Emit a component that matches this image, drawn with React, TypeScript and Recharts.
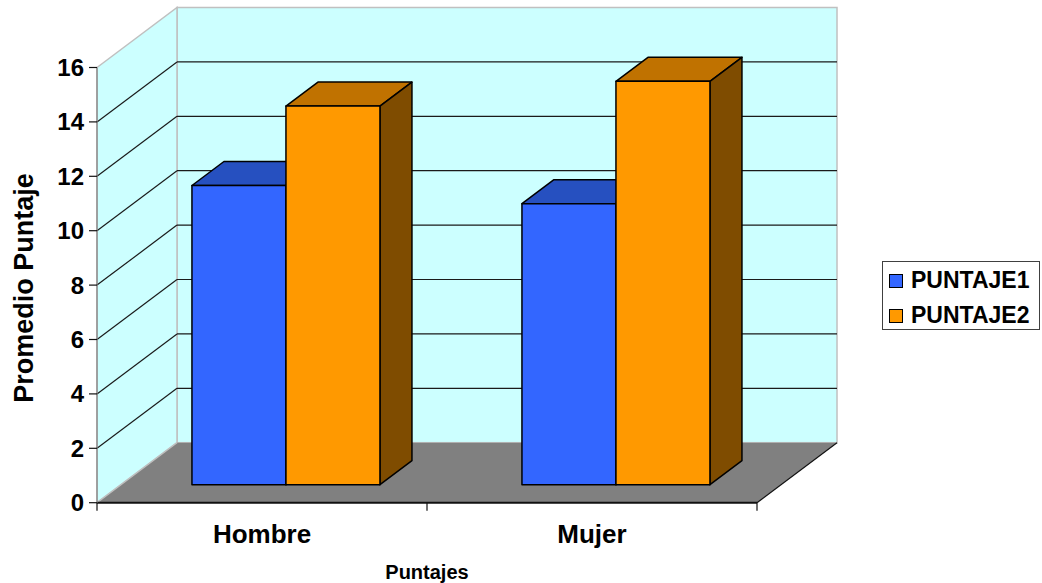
import React from "react";
import { BarChart, Bar, XAxis, YAxis, ReferenceArea, Legend } from "recharts";

const categories = ["Hombre", "Mujer"];
const puntaje1 = [11.0, 10.33];
const puntaje2 = [13.92, 14.83];
const yTicks = [0, 2, 4, 6, 8, 10, 12, 14, 16];

const data = categories.map((c, i) => ({
  sexo: c,
  PUNTAJE1: puntaje1[i],
  PUNTAJE2: puntaje2[i],
}));

const FONT = "'Liberation Sans', Arial, sans-serif";
// oblique depth of the floor (px) and where the boxes sit inside it
const DX = 80;
const DY = -60;
const FRONT = 0.3;
const BACK = 0.7;

const WALL = "#CCFFFF";
const EDGE = "#C0C0C0";

function Walls(props: any) {
  const { x, y, width, height } = props;
  const b = y + height;
  const max = yTicks[yTicks.length - 1];
  const py = (v: number) => b - (v / max) * height;
  const n = categories.length;
  return (
    <g>
      <rect x={x + DX} y={y + DY} width={width} height={height} fill={WALL} stroke={EDGE} strokeWidth={1.5} />
      <polygon
        points={`${x},${y} ${x + DX},${y + DY} ${x + DX},${b + DY} ${x},${b}`}
        fill={WALL}
        stroke={EDGE}
        strokeWidth={1.5}
      />
      {yTicks
        .filter((v) => v > 0 && v < max)
        .map((v) => (
          <g key={v}>
            <line x1={x + DX} x2={x + DX + width} y1={py(v) + DY} y2={py(v) + DY} stroke="#1a1a1a" strokeWidth={1.2} />
            <line x1={x} x2={x + DX} y1={py(v)} y2={py(v) + DY} stroke="#1a1a1a" strokeWidth={1.2} />
          </g>
        ))}
      <polygon
        points={`${x},${b} ${x + DX},${b + DY} ${x + width + DX},${b + DY} ${x + width},${b}`}
        fill="#808080"
      />
      <line x1={x} y1={b} x2={x + DX} y2={b + DY} stroke={EDGE} strokeWidth={1.2} />
      <line x1={x + width} y1={b} x2={x + width + DX} y2={b + DY} stroke="#111" strokeWidth={1.2} />
      {Array.from({ length: n + 1 }, (_, i) => (
        <line key={i} x1={x + (i * width) / n} x2={x + (i * width) / n} y1={b} y2={b + 8} stroke="#111" strokeWidth={1.2} />
      ))}
    </g>
  );
}

function Box3D(props: any, top: string, side: string) {
  const { x, y, width, height, fill } = props;
  if (width == null || height == null) return <g />;
  const fx = x + DX * FRONT;
  const fy = y + DY * FRONT;
  const bx = DX * (BACK - FRONT);
  const by = DY * (BACK - FRONT);
  const w = width;
  const h = height;
  return (
    <g stroke="#000" strokeWidth={1.5} strokeLinejoin="round">
      <polygon points={`${fx},${fy} ${fx + w},${fy} ${fx + w + bx},${fy + by} ${fx + bx},${fy + by}`} fill={top} />
      <polygon points={`${fx + w},${fy} ${fx + w + bx},${fy + by} ${fx + w + bx},${fy + h + by} ${fx + w},${fy + h}`} fill={side} />
      <rect x={fx} y={fy} width={w} height={h} fill={fill} />
    </g>
  );
}

function YLabel(props: any) {
  const vb = props.viewBox || { x: 0, y: 67.5, width: 97, height: 435 };
  const cx = vb.x + 33;
  const cy = vb.y + vb.height / 2 + 3;
  return (
    <text
      x={cx}
      y={cy}
      transform={`rotate(-90, ${cx}, ${cy})`}
      textAnchor="middle"
      fontSize={27}
      fontWeight="bold"
      fill="#000"
      fontFamily={FONT}
    >
      Promedio Puntaje
    </text>
  );
}

function LegendBox(props: any) {
  const items = props.payload || [];
  return (
    <div
      style={{
        boxSizing: "border-box",
        width: 158,
        height: 69,
        border: "1px solid #404040",
        background: "#fff",
        padding: "1px 0 0 6px",
        fontFamily: FONT,
      }}
    >
      {items.map((p: any) => (
        <div key={p.value} style={{ display: "flex", alignItems: "center", height: 35 }}>
          <span
            style={{
              width: 12,
              height: 12,
              background: p.color,
              border: "1.5px solid #000",
              marginRight: 8,
            }}
          />
          <span style={{ fontSize: 23, fontWeight: 700, color: "#000" }}>{p.value}</span>
        </div>
      ))}
    </div>
  );
}

export default function App() {
  return (
    <div style={{ position: "absolute", left: 0, top: 0, width: 1042, height: 583, background: "#fff" }}>
      <BarChart
        width={1042}
        height={583}
        data={data}
        margin={{ top: 67.5, right: 285, bottom: 0, left: 0 }}
        barCategoryGap="21.5%"
        barGap={0}
        style={{ fontFamily: FONT }}
      >
        <ReferenceArea
          x1="Hombre"
          x2="Mujer"
          y1={0}
          y2={16}
          ifOverflow="visible"
          shape={(p: any) => <Walls {...p} />}
        />
        <XAxis
          dataKey="sexo"
          height={80.3}
          tickLine={false}
          tickSize={0}
          tickMargin={22}
          axisLine={{ stroke: "#111", strokeWidth: 2 }}
          tick={{ fontSize: 26, fontWeight: 700, fill: "#000" }}
          label={{
            value: "Puntajes",
            position: "insideBottom",
            offset: 4,
            fontSize: 20,
            fontWeight: 700,
            fill: "#000",
          }}
        />
        <YAxis
          width={97}
          domain={[0, 16]}
          ticks={yTicks}
          interval={0}
          tickSize={8}
          tickMargin={5}
          axisLine={{ stroke: "#808080", strokeWidth: 1.2 }}
          tickLine={{ stroke: "#111", strokeWidth: 1.2 }}
          tick={{ fontSize: 24, fontWeight: 700, fill: "#000" }}
          label={YLabel}
        />
        <Legend
          align="center"
          verticalAlign="middle"
          content={<LegendBox />}
          wrapperStyle={{ left: 882, top: 261, right: "auto", bottom: "auto", width: 158 }}
        />
        <Bar
          dataKey="PUNTAJE1"
          fill="#3366FF"
          isAnimationActive={false}
          shape={(p: any) => Box3D(p, "#2650C0", "#1A337F")}
        />
        <Bar
          dataKey="PUNTAJE2"
          fill="#FF9900"
          isAnimationActive={false}
          shape={(p: any) => Box3D(p, "#C07200", "#7F4C00")}
        />
      </BarChart>
    </div>
  );
}
